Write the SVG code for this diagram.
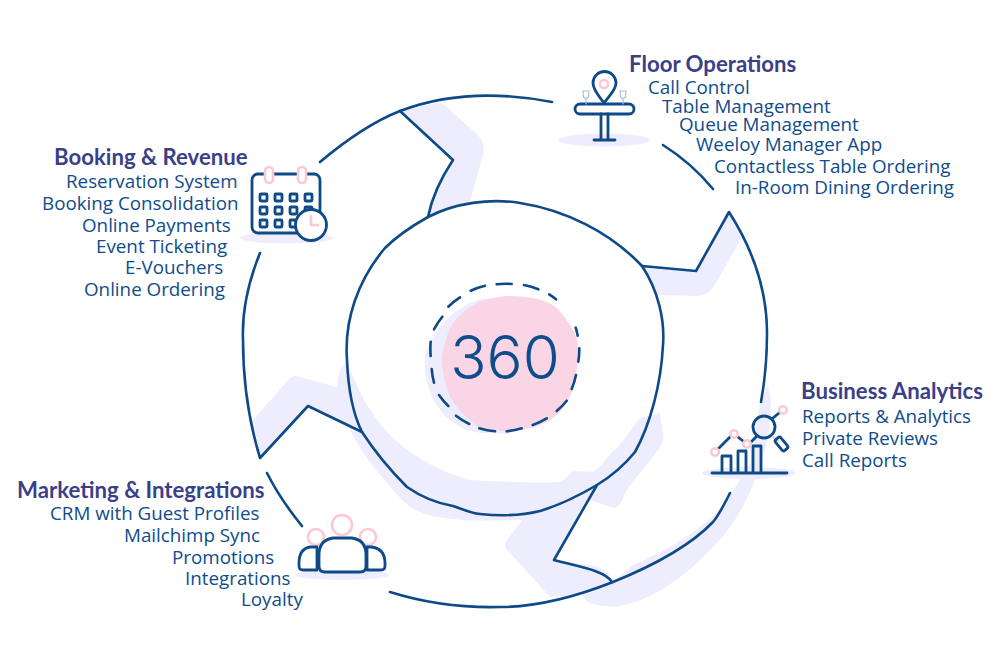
<svg xmlns="http://www.w3.org/2000/svg" width="1000" height="666" viewBox="0 0 1000 666">
<style>
.lav{fill:#eeedfd;stroke:none}
.pk{fill:#f9d5e5;stroke:none}
.ln{fill:none;stroke:#0d4a87;stroke-width:2.6;stroke-linecap:round;stroke-linejoin:round}
.ic{fill:none;stroke:#0d4a87;stroke-width:2.8;stroke-linecap:round;stroke-linejoin:round}
.pr{fill:none;stroke:#fbc8d4;stroke-width:2.6;stroke-linecap:round}
.gl{fill:none;stroke:#a9bfdc;stroke-width:1.2;stroke-linecap:round}
.t{font-family:"Lato","Liberation Sans",sans-serif;font-weight:700;font-size:22.2px;fill:#3a3f8a}
.i{font-family:"Open Sans","Noto Sans",sans-serif;font-size:18.8px;fill:#0f4c8c}
.n{font-family:"Inter","Open Sans",sans-serif;font-weight:300;font-size:60px;fill:#0f4c8c}
</style>
<rect width="1000" height="666" fill="#fff"/>
<g id="shadows">
<path class="lav" d="M400 111L437 103Q445 103 452 112L478 135Q486 144 483 155L470 202Q445 207 428 217Q437 185 452 160Z"/>
<path class="lav" d="M642 266L696 271L729 212L742 237L716 283Q709 296 697 296L657 295Z"/>
<path class="lav" d="M253 420L290 378Q294 375 300 377L337 387L362 432L308 406L260 458Z"/>
<path class="lav" d="M347 360C337 372 335 388 339 398C348 440 375 470 402 500C412 510 425 516 445 518C470 522 490 520 522 520L505 543Q504 548 510 553L550 597L583 595Q585 601 590 603Q605 608 620 606C650 600 680 582 713 547C735 525 750 498 762 460C770 435 774 410 768 385L760 402L750 465L732 492C716 520 680 545 633 565L612 582Q610 570 595 566L554 560L590 500L613 508Q620 507 623 498Q626 490 632 483L658 450Q665 440 663 433L660 413L640 418C630 430 622 445 612 452Q600 468 593 472L572 471Q566 479 560 482C530 484 500 481 470 480C440 472 410 455 390 435C370 415 355 385 347 360Z"/>
<path class="lav" d="M485 298C455 305 432 330 425 355C423 385 435 408 450 420C460 428 470 432 483 433L510 434L540 360Z"/>
<path class="pk" d="M510 296C530 296 548 300 557 308C568 320 578 335 578 347C578 370 575 385 570 397C564 408 558 415 550 420C540 426 530 429 520 430C505 432 492 431 480 428C468 420 458 410 450 397C445 385 442 370 442 357C444 345 447 333 453 323C460 314 468 308 477 303C488 298 500 296 510 296Z"/>
<ellipse class="lav" cx="604" cy="140" rx="46" ry="6.5"/>
<ellipse class="lav" cx="287" cy="238" rx="47" ry="5.5"/>
<ellipse class="lav" cx="749" cy="473" rx="47" ry="6"/>
<ellipse class="lav" cx="342" cy="575" rx="47" ry="5"/>
</g>
<g id="connectors">
<path class="ln" d="M320 162C345 141 372 122 400 111C450 92 505 93 552 102"/>
<path class="ln" d="M400 111L453 160C441 178 432 197 428 217"/>
<path class="ln" d="M428 217C455 203 490 198 520 203C565 210 610 232 642 266C658 290 665 320 663 345C661 385 650 425 635 452C622 468 610 477 597 485C580 495 560 505 540 511C520 516 500 516 480 514C470 513 462 509 453 506C435 503 420 496 407 487C390 470 375 452 362 432C352 412 348 385 347 360C344 320 358 280 385 248C398 235 412 226 428 217Z"/>
<path class="ln" d="M642 266L696 271L729 212C752 248 767 290 767 333C767 357 765 380 761 402"/>
<path class="ln" d="M663 145C682 157 699 172 713 189"/>
<path class="ln" d="M597 485L554 560C575 566 605 570 612 582"/>
<path class="ln" d="M730 493C724 505 719 515 713 522C690 546 650 567 613 582C575 597 535 607 500 607C460 608 425 603 390 592"/>
<path class="ln" d="M260 253C247 285 242 315 243 340C243 385 250 425 260 458L308 406L362 432"/>
<path class="ln" d="M267 473C277 493 289 510 302 526"/>
</g>
<g id="center">
<path class="ln" d="M448.3 306.7A74 74 0 0 1 460 297.3M470.7 290.7A74 74 0 0 1 485 285.7M496.7 284.3A74 74 0 0 1 511.7 284M524 285A74 74 0 0 1 538.3 289.3M549.3 294.3A74 74 0 0 1 556 299.3M575.7 327.7A74 74 0 0 1 577.7 335.7M579.3 348.3A74 74 0 0 1 578.3 361.7M576 375A74 74 0 0 1 571.7 389M566.7 400.7A74 74 0 0 1 556.7 411M546.7 418.3A74 74 0 0 1 532.7 425M521.7 428.3A74 74 0 0 1 506.7 431.3M495 431.3A74 74 0 0 1 479.3 428.3M469.3 424A74 74 0 0 1 456 415.7M448.3 406A74 74 0 0 1 439 395M434 382.7A74 74 0 0 1 431.7 369M430.7 356A74 74 0 0 1 430.7 341.7M434 329.3A74 74 0 0 1 442.3 316.7"/>
<text class="n" x="505" y="379" text-anchor="middle">360</text>
</g>
<g id="floor-operations">
<circle class="pr" cx="604" cy="84" r="4"/>
<path class="ic" d="M604 103C599 96 593 90 593 83A11.500 11.500 0 0 1 616 83C616 90 609 96 604 103Z"/>
<rect class="ic" x="575" y="104" width="59" height="10" rx="5" fill="#fff"/>
<path class="ic" d="M601 114V140M608 114V140M594 140H615"/>
<path class="gl" d="M583 91H589L588.500 97Q586 100 583.500 97ZM586 99V104M620 91H626L625.500 97Q623 100 620.500 97ZM623 99V104"/>
<text class="t" x="629" y="72">Floor Operations</text>
<text class="i" x="648" y="94">Call Control</text>
<text class="i" x="662" y="113">Table Management</text>
<text class="i" x="679" y="131">Queue Management</text>
<text class="i" x="696" y="151">Weeloy Manager App</text>
<text class="i" x="714" y="173">Contactless Table Ordering</text>
<text class="i" x="735" y="194">In-Room Dining Ordering</text>
</g>
<g id="booking-revenue">
<rect class="ic" x="252" y="174" width="68" height="59" rx="6"/>
<g fill="#fff" stroke="#fbc8d4" stroke-width="2.600"><rect x="265" y="167" width="8" height="16" rx="4"/><rect x="298" y="167" width="8" height="16" rx="4"/></g>
<g class="ic">
<rect x="260" y="194" width="7" height="7" rx="1"/><rect x="275" y="194" width="7" height="7" rx="1"/><rect x="290" y="194" width="7" height="7" rx="1"/><rect x="305" y="194" width="7" height="7" rx="1"/>
<rect x="260" y="207" width="7" height="7" rx="1"/><rect x="275" y="207" width="7" height="7" rx="1"/><rect x="290" y="207" width="7" height="7" rx="1"/><rect x="305" y="207" width="7" height="7" rx="1"/>
<rect x="260" y="220" width="7" height="7" rx="1"/><rect x="275" y="220" width="7" height="7" rx="1"/><rect x="290" y="220" width="7" height="7" rx="1"/>
</g>
<circle cx="311" cy="225" r="15.500" fill="#fff" stroke="#0d4a87" stroke-width="2.800"/>
<path class="pr" d="M311 216V225H318"/>
<text class="t" x="54" y="164.500">Booking &amp; Revenue</text>
<text class="i" x="66" y="188">Reservation System</text>
<text class="i" x="42" y="210">Booking Consolidation</text>
<text class="i" x="82" y="232">Online Payments</text>
<text class="i" x="96" y="253">Event Ticketing</text>
<text class="i" x="125" y="274">E-Vouchers</text>
<text class="i" x="84" y="296">Online Ordering</text>
</g>
<g id="business-analytics">
<path class="ic" d="M712 473H787M722 473V456H731V473M738 473V451H746V473M753 473V446H761V473"/>
<path class="ic" d="M719 448L730 437M738 437L743 441M751 442L756 437M773 418L779 413"/>
<circle class="ic" cx="764" cy="427" r="11"/>
<path class="pr" d="M773 437L778 441"/>
<rect class="ic" x="778" y="437" width="7" height="14" rx="2" transform="rotate(-40 781.500 444)"/>
<circle class="pr" cx="715" cy="452" r="3.800"/><circle class="pr" cx="734" cy="434" r="3.800"/><circle class="pr" cx="747" cy="444" r="3.800"/><circle class="pr" cx="783" cy="410" r="3.800"/>
<text class="t" x="801" y="398.500">Business Analytics</text>
<text class="i" x="802" y="423">Reports &amp; Analytics</text>
<text class="i" x="802" y="445">Private Reviews</text>
<text class="i" x="802" y="467">Call Reports</text>
</g>
<g id="marketing-integrations">
<circle class="pr" cx="342" cy="525" r="10"/><circle class="pr" cx="316" cy="537" r="8"/><circle class="pr" cx="368" cy="537" r="8"/>
<path class="ic" d="M317 547H310Q299 549 299 563V566Q299 570 303 570H317ZM367 547H372Q385 549 385 563V566Q385 570 381 570H367Z" fill="#fff"/>
<path fill="#fff" stroke="#0d4a87" stroke-width="2.800" d="M333 538H352Q366 540 366 555V566Q366 572 360 572H325Q319 572 319 566V555Q319 540 333 538Z"/>
<text class="t" x="17" y="497.500">Marketing &amp; Integrations</text>
<text class="i" x="50" y="520">CRM with Guest Profiles</text>
<text class="i" x="124" y="542">Mailchimp Sync</text>
<text class="i" x="172" y="564">Promotions</text>
<text class="i" x="185" y="585">Integrations</text>
<text class="i" x="241" y="606">Loyalty</text>
</g>
</svg>
